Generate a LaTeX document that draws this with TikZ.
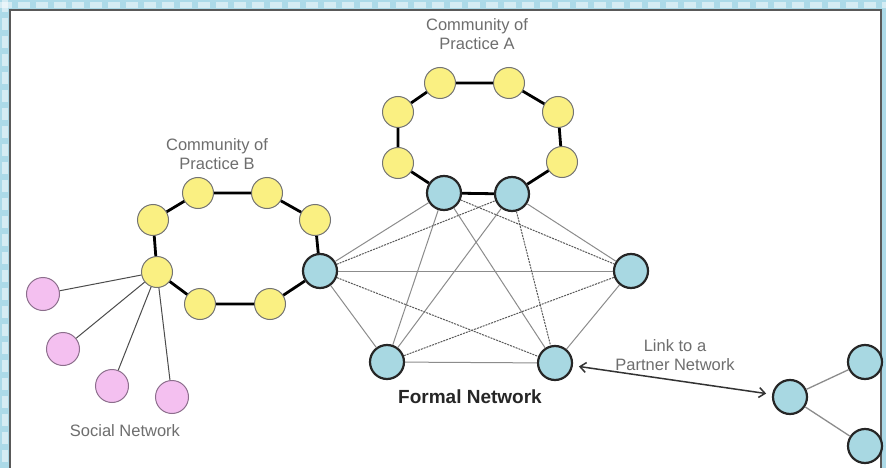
\documentclass[tikz,border=0pt]{standalone}
\usepackage{fontspec}
\setmainfont{Liberation Sans}
\usetikzlibrary{arrows.meta}

\definecolor{dotyellow}{RGB}{250,240,130}
\definecolor{dotblue}{RGB}{168,216,226}
\definecolor{dotpink}{RGB}{244,192,240}
\definecolor{pinkline}{RGB}{140,110,140}
\definecolor{framebg}{RGB}{172,218,232}
\definecolor{labelgray}{RGB}{110,110,110}

\begin{document}
\begin{tikzpicture}[
        x=1pt, y=-1pt,
        >={Straight Barb[length=6pt, width=10pt]},
        every node/.style={font=\fontsize{16.5}{19}\selectfont, text=labelgray, align=center},
        member/.style={circle, inner sep=0pt, minimum size=31pt, draw=black!55, line width=1pt, fill=dotyellow},
        hub/.style={circle, inner sep=0pt, minimum size=34pt, draw=black!85, line width=2.2pt, fill=dotblue},
        friend/.style={circle, inner sep=0pt, minimum size=33pt, draw=pinkline, line width=1pt, fill=dotpink},
        ring/.style={line width=2.8pt, black},
        tie/.style={line width=1pt, black!45},
        loosetie/.style={line width=1pt, black!65, dash pattern=on 2pt off 1pt}
    ]
    \useasboundingbox (0,0) rectangle (886,468);

    % Frame
    \fill[framebg] (0,0) rectangle (886,468);
    \draw[white, opacity=0.5, line width=6pt, dash pattern=on 12pt off 6pt] (0,5) -- (886,5);
    \draw[white, opacity=0.5, line width=6pt, dash pattern=on 12pt off 6pt] (5,0) -- (5,468);
    \filldraw[fill=white, draw=black!65, line width=2pt] (10,10) rectangle (881,480);

    % Community of Practice A
    \node[member] (a1) at (398,163) {};
    \node[member] (a2) at (398,112) {};
    \node[member] (a3) at (440,83) {};
    \node[member] (a4) at (509,83) {};
    \node[member] (a5) at (558,112) {};
    \node[member] (a6) at (562,162) {};
    \node[hub] (fa) at (512,194) {};
    \node[hub] (fb) at (444,193) {};

    % Community of Practice B
    \node[member] (b1) at (157,272) {};
    \node[member] (b2) at (153,220) {};
    \node[member] (b3) at (198,193) {};
    \node[member] (b4) at (267,193) {};
    \node[member] (b5) at (315,220) {};
    \node[hub] (fc) at (320,271) {};
    \node[member] (b6) at (270,304) {};
    \node[member] (b7) at (200,304) {};

    % rest of the formal network
    \node[hub] (fd) at (631,271) {};
    \node[hub] (fe) at (387,362) {};
    \node[hub] (ff) at (555,363) {};

    % Partner network
    \node[hub] (p1) at (790,397) {};
    \node[hub] (p2) at (865,362) {};
    \node[hub] (p3) at (865,446) {};

    % Social network
    \node[friend] (s1) at (43,294) {};
    \node[friend] (s2) at (63,349) {};
    \node[friend] (s3) at (112,386) {};
    \node[friend] (s4) at (172,397) {};

    % Rings
    \draw[ring] (a1) -- (a2) -- (a3) -- (a4) -- (a5) -- (a6) -- (fa) -- (fb) -- (a1);
    \draw[ring] (b1) -- (b2) -- (b3) -- (b4) -- (b5) -- (fc) -- (b6) -- (b7) -- (b1);

    % Formal links
    \foreach \u/\v in {fc/fb, fc/fd, fc/fe, fb/fe, fb/ff, fa/fd, fa/fe, fe/ff, fd/ff}
        \draw[tie] (\u) -- (\v);
    \foreach \u/\v in {fc/fa, fc/ff, fb/fd, fe/fd, fa/ff}
        \draw[loosetie] (\u) -- (\v);

    % Social links
    \foreach \s in {s1,s2,s3,s4}
        \draw[line width=1pt, black!70] (b1) -- (\s);

    % Partner links
    \draw[tie, line width=1.3pt] (p1) -- (p2);
    \draw[tie, line width=1.3pt] (p1) -- (p3);
    \draw[<->, line width=1.5pt, black!80, shorten <=6pt, shorten >=6pt] (ff) -- (p1);

    % Labels
    \node (capa) at (477,34) {Community of\\Practice A};
    \node (capb) at (217,154) {Community of\\Practice B};
    \node (social) at (125,431) {Social Network};
    \node[font=\fontsize{19}{22}\selectfont\bfseries, text=black!85] (formal) at (470,397) {Formal Network};
    \node (partner) at (675,355) {Link to a\\Partner Network};
\end{tikzpicture}
\end{document}
